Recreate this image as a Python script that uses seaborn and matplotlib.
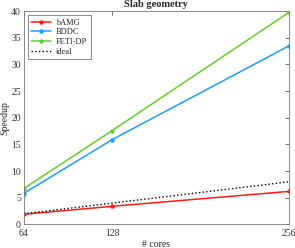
import matplotlib
matplotlib.use("Agg")
import matplotlib.pyplot as plt
import seaborn as sns
import pandas as pd

cores = [64, 128, 256]
bamg = [1.9, 3.4, 6.2]
bddc = [5.8, 15.9, 33.5]
fetidp = [6.7, 17.6, 39.8]
ideal = [2, 4, 8]
series_names = ["bAMG", "BDDC", "FETI-DP"]
colors = ["#ff1a1a", "#1e9bff", "#66cc2a"]

sns.set_theme(style="white")
plt.rcParams['font.family'] = ['Liberation Serif', 'DejaVu Serif']
plt.rcParams['mathtext.fontset'] = 'stix'

df = pd.DataFrame({
    "cores": cores * 3,
    "speedup": bamg + bddc + fetidp,
    "method": sum([[n] * 3 for n in series_names], []),
})

fig, ax = plt.subplots(figsize=(2.95, 2.48), dpi=100)
sns.lineplot(data=df, x="cores", y="speedup", hue="method", palette=colors,
             marker="o", markersize=3.2, markeredgewidth=0, linewidth=1.1, ax=ax)
sns.lineplot(x=cores, y=ideal, color="black", linestyle=":", linewidth=1.0, ax=ax, label="ideal")

ax.set_xlim(64, 256)
ax.set_ylim(0, 40)
ax.set_xticks(cores)
ax.set_yticks([0, 5, 10, 15, 20, 25, 30, 35, 40])
ax.tick_params(direction="in", length=3, width=0.5, labelsize=7, colors="#333333",
               top=True, right=True)
ax.tick_params(axis="x", pad=3.5)
ax.tick_params(axis="y", pad=2)
for s in ax.spines.values():
    s.set_linewidth(0.6)
    s.set_color("#777777")
ax.set_xlabel("# cores", fontsize=7, labelpad=1)
ax.set_ylabel("Speedup", fontsize=7, labelpad=1)
ax.set_title("Slab geometry", fontsize=7.5, fontweight="bold", pad=3)
leg = ax.legend(loc="upper left", fontsize=6, frameon=True, fancybox=False,
                edgecolor="#333333", handlelength=2.4, borderpad=0.4, labelspacing=0.2,
                handletextpad=0.6, borderaxespad=0.5)
leg.get_frame().set_linewidth(0.5)

fig.subplots_adjust(left=0.08, right=0.98, top=0.955, bottom=0.095)
fig.savefig("out.png", dpi=100)
